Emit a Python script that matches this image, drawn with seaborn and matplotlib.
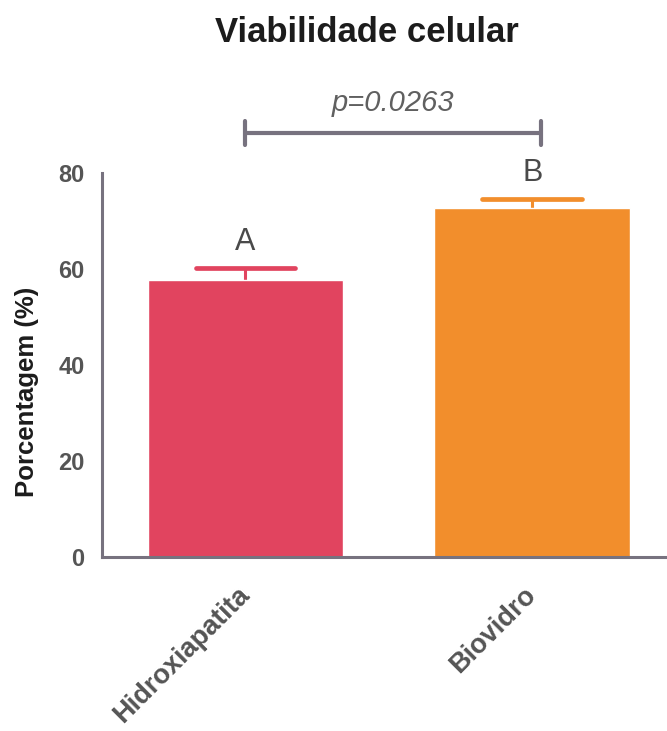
import numpy as np
import pandas as pd
import seaborn as sns
import matplotlib.pyplot as plt

# ── Data ────────────────────────────────────────────────────────────────
groups = ["Hidroxiapatita", "Biovidro"]
means = [57.7, 72.8]
sds = [2.6, 1.9]
letters = ["A", "B"]
bar_colors = ["#E1445F", "#F28E2C"]
p_text = "p=0.0263"

axis_color = "#77727F"
label_color = "#555555"

sns.set_theme(style="white")
plt.rcParams["font.family"] = ["Liberation Sans", "DejaVu Sans"]

df = pd.DataFrame({"grupo": groups, "media": means, "sd": sds})

fig = plt.figure(figsize=(6.67, 7.31), dpi=100)
ax = fig.add_axes([0.153, 0.238, 0.847, 0.525])

sns.barplot(data=df, x="grupo", y="media", hue="grupo", palette=bar_colors,
            legend=False, width=0.683, saturation=1, ax=ax, zorder=2)

# upper error bars only (whisker + cap)
cap_half = 0.174
for i, (m, s, c) in enumerate(zip(means, sds, bar_colors)):
    ax.vlines(i, m, m + s, color=c, lw=2.2, zorder=1)
    ax.hlines(m + s, i - cap_half, i + cap_half, color=c, lw=3.4, zorder=1,
              capstyle="round")
    ax.text(i, m + s + 5.4, letters[i], ha="center", va="center",
            fontsize=22, color="#4a4a4a")

# significance bracket
y_sig = 88.3
ax.plot([0, 1.03], [y_sig, y_sig], color=axis_color, lw=3, clip_on=False,
        solid_capstyle="round")
for xx in [0, 1.03]:
    ax.plot([xx, xx], [y_sig - 2.5, y_sig + 2.5], color=axis_color, lw=3,
            clip_on=False, solid_capstyle="round")
ax.text(0.515, 94.6, p_text, ha="center", va="center", fontsize=21,
        style="italic", color="#606060")

ax.set_xlim(-0.5, 1.47)
ax.set_ylim(0, 80)
ax.set_yticks([0, 20, 40, 60, 80])
ax.set_xlabel("")
ax.set_ylabel("")

sns.despine(ax=ax)
for sp in ["left", "bottom"]:
    ax.spines[sp].set_color(axis_color)
    ax.spines[sp].set_linewidth(2.2)

ax.tick_params(axis="both", direction="out", length=8.5, width=2,
               color=axis_color, labelcolor=label_color)
ax.tick_params(axis="y", labelsize=17, pad=4)
ax.tick_params(axis="x", labelsize=19.5, pad=16)
for lab in ax.get_yticklabels():
    lab.set_fontweight("bold")
for lab in ax.get_xticklabels():
    lab.set_fontweight("bold")
    lab.set_rotation(45)
    lab.set_ha("right")
    lab.set_va("center")
    lab.set_rotation_mode("anchor")

fig.text(0.55, 0.955, "Viabilidade celular", ha="center", va="center",
         fontsize=25, fontweight="bold", color="#1c1c1c")
fig.text(27 / 667, 1 - 392 / 731, "Porcentagem (%)", ha="center", va="center",
         rotation=90, fontsize=18.5, fontweight="bold", color="#1c1c1c")

fig.savefig("out.png", dpi=100, facecolor="white")
